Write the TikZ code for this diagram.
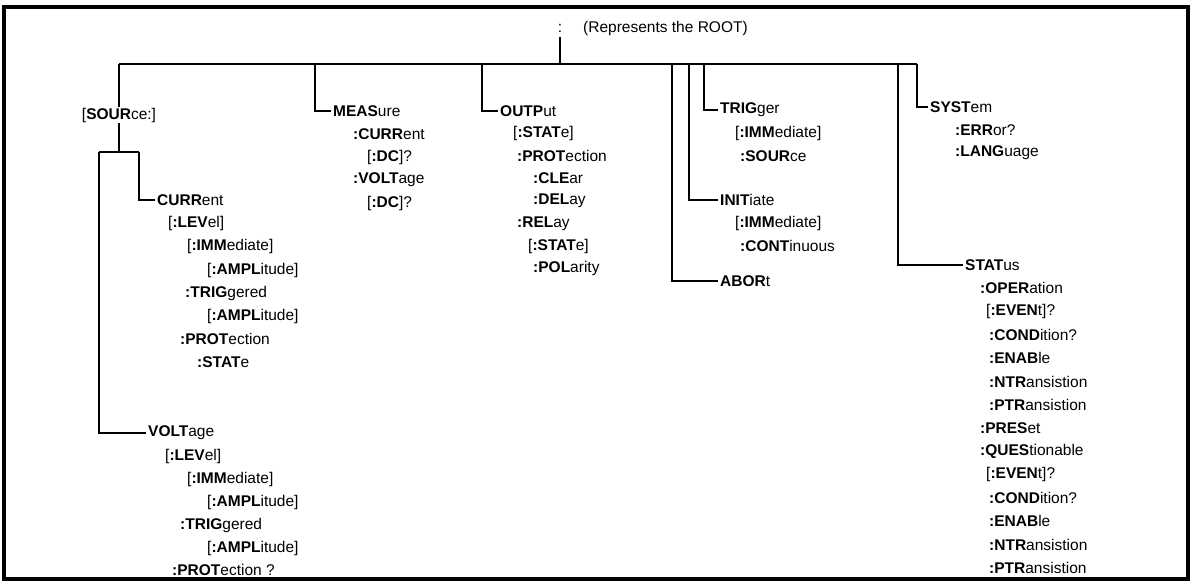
\documentclass[tikz,border=0pt]{standalone}
\usepackage{fontspec}
\setmainfont{Liberation Sans}
\tikzset{
  cmd/.style={anchor=west,inner xsep=2pt,inner ysep=1pt,font=\fontsize{15.5}{18}\selectfont},
  wire/.style={draw=black,line width=1.8pt},
  frame/.style={draw=black,line width=3.5pt},
}
\newcommand{\kw}[2]{\textbf{#1}#2}

\begin{document}
\begin{tikzpicture}[x=1pt,y=-1pt]
\useasboundingbox (0,0) rectangle (1192,584);
\draw[frame] (4,7) rectangle (1188,579);
% root
\node[cmd,anchor=center,inner sep=5pt] (colon) at (560,28) {:};
\node[cmd] (rootTxt) at (581,28) {(Represents the ROOT)};
\coordinate (rootJ) at (560,64);
\coordinate (mainL) at (119,64);
\coordinate (bMeas) at (315,64);
\coordinate (bOutp) at (482,64);
\coordinate (bAbor) at (672,64);
\coordinate (bInit) at (689,64);
\coordinate (bTrig) at (704,64);
\coordinate (bStat) at (898,64);
\coordinate (bSyst) at (917,64);
\coordinate (srcJ) at (119,152);
\coordinate (splitL) at (99,152);
\coordinate (splitR) at (139,152);
% SOURce subsystem
\node[cmd,anchor=center] (src) at (119,115) {[\kw{SOUR}{ce:}]};
\node[cmd] (curr) at (155,200) {\kw{CURR}{ent}};
\node[cmd] (currLev) at (166,223) {[\kw{:LEV}{el}]};
\node[cmd] (currImm) at (185,246) {[\kw{:IMM}{ediate}]};
\node[cmd] (currAmp) at (205,270) {[\kw{:AMPL}{itude}]};
\node[cmd] (currTrg) at (183,293) {\kw{:TRIG}{gered}};
\node[cmd] (currTAmp) at (205,316) {[\kw{:AMPL}{itude}]};
\node[cmd] (currPro) at (178,339) {\kw{:PROT}{ection}};
\node[cmd] (currSta) at (195,362) {\kw{:STAT}{e}};
\node[cmd] (volt) at (146,433) {\kw{VOLT}{age}};
\node[cmd] (voltLev) at (163,456) {[\kw{:LEV}{el}]};
\node[cmd] (voltImm) at (185,479) {[\kw{:IMM}{ediate}]};
\node[cmd] (voltAmp) at (205,502) {[\kw{:AMPL}{itude}]};
\node[cmd] (voltTrg) at (178,525) {\kw{:TRIG}{gered}};
\node[cmd] (voltTAmp) at (205,548) {[\kw{:AMPL}{itude}]};
\node[cmd] (voltPro) at (170,570) {\kw{:PROT}{ection ?}};
% MEASure
\node[cmd] (meas) at (331,111) {\kw{MEAS}{ure}};
\node[cmd] (measCur) at (351,134) {\kw{:CURR}{ent}};
\node[cmd] (measCurDc) at (365,157) {[\kw{:DC}{}]?};
\node[cmd] (measVol) at (351,180) {\kw{:VOLT}{age}};
\node[cmd] (measVolDc) at (365,203) {[\kw{:DC}{}]?};
% OUTPut
\node[cmd] (outp) at (498,111) {\kw{OUTP}{ut}};
\node[cmd] (outSta) at (511,133.5) {[\kw{:STAT}{e}]};
\node[cmd] (outPro) at (515,156) {\kw{:PROT}{ection}};
\node[cmd] (outClr) at (531,178.5) {\kw{:CLE}{ar}};
\node[cmd] (outDel) at (531,201) {\kw{:DEL}{ay}};
\node[cmd] (outRel) at (515,223.5) {\kw{:REL}{ay}};
\node[cmd] (outRSta) at (526,246) {[\kw{:STAT}{e}]};
\node[cmd] (outPol) at (531,268.5) {\kw{:POL}{arity}};
% TRIGger, INITiate, ABORt
\node[cmd] (trig) at (718,110) {\kw{TRIG}{ger}};
\node[cmd] (trigImm) at (733,133) {[\kw{:IMM}{ediate}]};
\node[cmd] (trigSrc) at (738,156) {\kw{:SOUR}{ce}};
\node[cmd] (init) at (718,200) {\kw{INIT}{iate}};
\node[cmd] (initImm) at (733,223) {[\kw{:IMM}{ediate}]};
\node[cmd] (initCont) at (738,246) {\kw{:CONT}{inuous}};
\node[cmd] (abor) at (718,281) {\kw{ABOR}{t}};
% SYSTem
\node[cmd] (syst) at (928,107) {\kw{SYST}{em}};
\node[cmd] (systErr) at (953,130) {\kw{:ERR}{or?}};
\node[cmd] (systLang) at (953,153) {\kw{:LANG}{uage}};
% STATus
\node[cmd] (stat) at (963,265) {\kw{STAT}{us}};
\node[cmd] (statOper) at (978,288.3) {\kw{:OPER}{ation}};
\node[cmd] (statOpEv) at (984,311.6) {[\kw{:EVEN}{t}]?};
\node[cmd] (statOpCond) at (987,334.9) {\kw{:COND}{ition?}};
\node[cmd] (statOpEna) at (987,358.2) {\kw{:ENAB}{le}};
\node[cmd] (statOpNtr) at (987,381.5) {\kw{:NTR}{ansistion}};
\node[cmd] (statOpPtr) at (987,404.8) {\kw{:PTR}{ansistion}};
\node[cmd] (statPres) at (978,428.1) {\kw{:PRES}{et}};
\node[cmd] (statQues) at (978,451.4) {\kw{:QUES}{tionable}};
\node[cmd] (statQuEv) at (984,474.7) {[\kw{:EVEN}{t}]?};
\node[cmd] (statQuCond) at (987,498) {\kw{:COND}{ition?}};
\node[cmd] (statQuEna) at (987,521.3) {\kw{:ENAB}{le}};
\node[cmd] (statQuNtr) at (987,544.6) {\kw{:NTR}{ansistion}};
\node[cmd] (statQuPtr) at (987,567.5) {\kw{:PTR}{ansistion}};
% tree lines
\draw[wire] (mainL) -- (bSyst);
\draw[wire] (colon) -- (rootJ);
\draw[wire] (mainL) -- (src);
\draw[wire] (src) -- (srcJ);
\draw[wire] (splitL) -- (splitR);
\draw[wire] (splitR) |- (curr);
\draw[wire] (splitL) |- (volt);
\draw[wire] (bMeas) |- (meas);
\draw[wire] (bOutp) |- (outp);
\draw[wire] (bAbor) |- (abor);
\draw[wire] (bInit) |- (init);
\draw[wire] (bTrig) |- (trig);
\draw[wire] (bStat) |- (stat);
\draw[wire] (bSyst) |- (syst);
\end{tikzpicture}
\end{document}
